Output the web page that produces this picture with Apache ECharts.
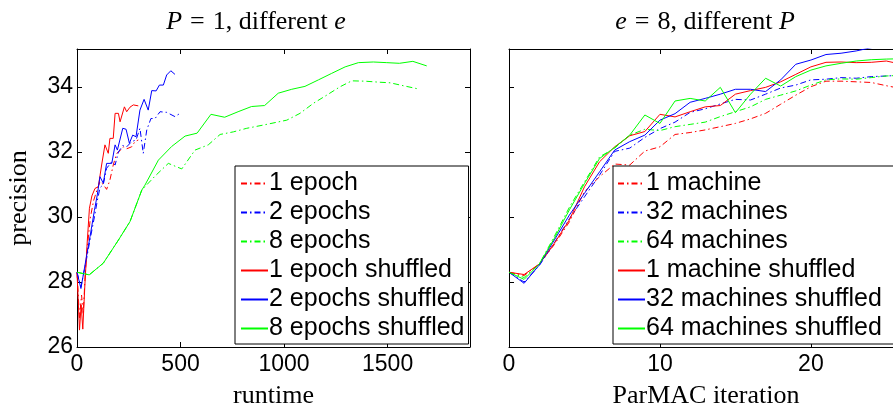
<!DOCTYPE html>
<html>
<head>
<meta charset="utf-8">
<script src="https://cdn.jsdelivr.net/npm/echarts@6/dist/echarts.min.js"></script>
<style>
html,body{margin:0;padding:0;background:#fff;}
#chart{width:893px;height:407px;}
</style>
</head>
<body>
<div id="chart"></div>
<script>
// left panel: [runtime, precision]
var epoch1 = [[0,28.3],[12,26.9],[22,27.6],[30,27.0],[40,28.3],[52,29.2],[65,30.0],[80,30.5],[95,30.8],[111,31.09],[127,31.0],[143,30.85],[159,31.14],[175,31.6],[192,31.96],[211,32.06],[224,32.16],[240,32.1],[264,32.16],[280,32.32],[296,32.37]];
var epoch2 = [[0,28.3],[19,27.85],[43,28.6],[63,29.3],[84,30.0],[98,30.5],[111,30.9],[127,31.0],[143,31.5],[168,31.7],[184,31.6],[200,32.0],[221,32.2],[240,32.16],[264,32.32],[285,32.37],[304,32.73],[320,31.96],[337,32.68],[357,33.03],[377,33.03],[401,33.24],[433,33.22],[473,33.09],[498,33.19]];
var epoch8 = [[0,28.3],[59,28.22],[127,28.58],[200,29.29],[256,29.86],[313,30.83],[377,31.26],[441,31.65],[506,31.48],[570,32.06],[634,32.22],[691,32.54],[755,32.62],[820,32.73],[900,32.83],[1013,32.98],[1077,33.19],[1142,33.5],[1206,33.75],[1271,34.01],[1327,34.19],[1391,34.18],[1456,34.15],[1512,34.13],[1576,34.04],[1649,33.94]];
var epoch1Shuf = [[0,28.3],[12,26.52],[20,27.3],[28,26.55],[38,27.9],[48,29.1],[60,30.27],[72,30.65],[87,30.88],[103,30.93],[119,31.6],[135,32.22],[151,31.96],[159,32.42],[175,32.42],[184,33.19],[200,33.19],[208,32.93],[229,33.39],[240,33.24],[256,33.38],[272,33.45],[296,33.42]];
var epoch2Shuf = [[0,28.3],[19,27.8],[43,28.68],[63,29.4],[84,30.2],[98,30.68],[111,31.24],[127,31.04],[143,31.65],[168,31.65],[184,32.22],[195,32.06],[221,32.73],[237,32.7],[253,32.27],[269,32.52],[285,32.47],[304,33.29],[324,33.62],[344,33.29],[361,33.89],[382,33.88],[398,34.06],[417,34.06],[433,34.37],[453,34.5],[473,34.39]];
var epoch8Shuf = [[0,28.3],[59,28.22],[127,28.58],[200,29.29],[256,29.86],[313,30.83],[328,30.98],[393,31.75],[457,32.17],[522,32.49],[580,32.58],[647,33.16],[713,33.07],[778,33.24],[843,33.4],[906,33.43],[972,33.81],[1037,33.93],[1101,34.02],[1166,34.22],[1230,34.42],[1295,34.62],[1359,34.75],[1431,34.77],[1496,34.75],[1557,34.73],[1622,34.79],[1689,34.65]];

// right panel: precision per ParMAC iteration 0..26
var iters = [0,1,2,3,4,5,6,7,8,9,10,11,12,13,14,15,16,17,18,19,20,21,22,23,24,25,26];
var mach1 = [28.3,28.2,28.55,29.15,29.85,30.78,31.24,31.63,31.6,32.03,32.16,32.54,32.6,32.68,32.78,32.88,33.02,33.19,33.47,33.75,34.01,34.18,34.18,34.16,34.14,34.04,33.95];
var mach32 = [28.3,28.0,28.5,29.2,29.95,30.62,31.29,32.02,32.12,32.45,32.72,32.92,33.22,33.33,33.48,33.62,33.6,33.78,33.97,34.06,34.22,34.24,34.29,34.27,34.32,34.34,34.36];
var mach64 = [28.3,28.14,28.55,29.4,30.3,31.08,31.85,32.12,32.52,32.7,32.66,32.78,32.85,32.92,33.09,33.24,33.39,33.62,33.75,33.88,34.06,34.22,34.25,34.24,34.29,34.34,34.36];
var mach1Shuf = [28.3,28.23,28.55,29.19,29.91,30.93,31.7,32.16,32.5,32.63,33.16,33.08,33.24,33.39,33.43,33.78,33.89,33.99,34.16,34.39,34.62,34.76,34.77,34.75,34.76,34.8,34.7];
var mach32Shuf = [28.3,27.96,28.52,29.29,30.06,30.73,31.39,32.06,32.32,32.52,32.98,33.18,33.53,33.65,33.78,33.93,33.93,33.86,34.22,34.7,34.83,35.0,35.04,35.11,35.21,35.3,35.4];
var mach64Shuf = [28.3,28.08,28.55,29.34,30.22,31.03,31.8,32.14,32.52,33.14,32.88,33.57,33.65,33.57,33.99,33.21,33.78,34.27,34.03,34.32,34.52,34.65,34.73,34.8,34.84,34.86,34.87];

var leftNames = ['1 epoch','2 epochs','8 epochs','1 epoch shuffled','2 epochs shuffled','8 epochs shuffled'];
var rightNames = ['1 machine','32 machines','64 machines','1 machine shuffled','32 machines shuffled','64 machines shuffled'];

var RED = '#ff0000', BLUE = '#0000ff', GREEN = '#00ff00';
var DASHDOT = [6,3,1.5,3];
var SANS = 'Liberation Sans', SERIF = 'Liberation Serif';
var YMIN = 26, YMAX = 35.17;

function pairs(ys){
	return ys.map(function(v,i){ return [iters[i], v]; });
}
function line(name, data, color, dashed, axis){
	return {
		name: name, type: 'line', data: data,
		xAxisIndex: axis.x, yAxisIndex: axis.y,
		symbol: 'none', showSymbol: false,
		lineStyle: {color: color, width: 1, type: dashed ? DASHDOT : 'solid'},
		itemStyle: {color: color},
		z: dashed ? 2 : 3,
		clip: true
	};
}
function axisBase(){
	return {
		axisLine: {show: true, onZero: false, lineStyle: {color: '#000', width: 1}},
		axisTick: {show: true, inside: true, length: 5, lineStyle: {color: '#000'}},
		splitLine: {show: false},
		axisLabel: {show: false}
	};
}
function xAx(grid, pos, max, interval, labels){
	var a = axisBase();
	a.type = 'value'; a.gridIndex = grid; a.position = pos;
	a.min = 0; a.max = max; a.interval = interval;
	if(labels){
		a.axisLabel = {show: true, color: '#000', fontFamily: SANS, fontSize: 23, margin: 6,
			showMaxLabel: false, formatter: function(v){ return String(v); }};
	}
	return a;
}
function yAx(grid, pos, labels){
	var a = axisBase();
	a.type = 'value'; a.gridIndex = grid; a.position = pos;
	a.min = YMIN; a.max = YMAX; a.interval = 2;
	if(labels){
		a.axisLabel = {show: true, color: '#000', fontFamily: SANS, fontSize: 23, margin: 4,
			showMaxLabel: false, formatter: function(v){ return String(v); }};
	}
	return a;
}

var L = {x: 0, y: 0}, R = {x: 2, y: 2};

var xBottomL = xAx(0, 'bottom', 1898, 500, true);
xBottomL.name = 'runtime';
xBottomL.nameLocation = 'middle';
xBottomL.nameGap = 36;
xBottomL.nameTextStyle = {fontFamily: SERIF, fontSize: 26, color: '#000'};

var xBottomR = xAx(1, 'bottom', 26.5, 10, true);
xBottomR.name = 'ParMAC iteration';
xBottomR.nameLocation = 'middle';
xBottomR.nameGap = 36;
xBottomR.nameTextStyle = {fontFamily: SERIF, fontSize: 26, color: '#000', padding: [0, 6, 0, 0]};

var yLeftL = yAx(0, 'left', true);
yLeftL.name = 'precision';
yLeftL.nameLocation = 'middle';
yLeftL.nameRotate = 90;
yLeftL.nameGap = 45;
yLeftL.nameTextStyle = {fontFamily: SERIF, fontSize: 26, color: '#000'};

// math-style title: italic symbols, wide "=" like LaTeX
var titleRich = {
	i: {fontFamily: SERIF, fontSize: 26, fontStyle: 'italic', fill: '#000'},
	eq: {fontFamily: SERIF, fontSize: 26, fill: '#000', padding: [0, 8, 0, 8]}
};

function legendOf(names, left, pad){
	return {
		data: names, orient: 'vertical', left: left, top: 166,
		itemWidth: 27, itemHeight: 12, itemGap: 4, padding: pad,
		borderColor: '#000', borderWidth: 1, backgroundColor: '#fff',
		itemStyle: {opacity: 0},
		textStyle: {fontFamily: SANS, fontSize: 25, color: '#000', padding: [0, 0, 0, -4]},
		selectedMode: false, z: 10
	};
}

var option = {
	animation: false,
	backgroundColor: '#fff',
	grid: [
		{left: 77, top: 49, width: 393, height: 298, outerBoundsMode: 'none'},
		{left: 509, top: 49, width: 400, height: 298, outerBoundsMode: 'none'}
	],
	xAxis: [xBottomL, xAx(0, 'top', 1898, 500, false), xBottomR, xAx(1, 'top', 26.5, 10, false)],
	yAxis: [yLeftL, yAx(0, 'right', false), yAx(1, 'left', false)],
	legend: [
		legendOf(leftNames, 235, [5, 4, 3, 5]),
		legendOf(rightNames, 613, [5, 60, 3, 4])
	],
	graphic: [
		{type: 'text', x: 256, y: 22, style: {text: '{i|P}{eq|=}1, different {i|e}', rich: titleRich,
			font: '26px "Liberation Serif"', fill: '#000', align: 'center', verticalAlign: 'middle'}},
		{type: 'text', x: 705, y: 22, style: {text: '{i|e}{eq|=}8, different {i|P}', rich: titleRich,
			font: '26px "Liberation Serif"', fill: '#000', align: 'center', verticalAlign: 'middle'}}
	],
	series: [
		line(leftNames[0], epoch1, RED, true, L),
		line(leftNames[1], epoch2, BLUE, true, L),
		line(leftNames[2], epoch8, GREEN, true, L),
		line(leftNames[3], epoch1Shuf, RED, false, L),
		line(leftNames[4], epoch2Shuf, BLUE, false, L),
		line(leftNames[5], epoch8Shuf, GREEN, false, L),
		line(rightNames[0], pairs(mach1), RED, true, R),
		line(rightNames[1], pairs(mach32), BLUE, true, R),
		line(rightNames[2], pairs(mach64), GREEN, true, R),
		line(rightNames[3], pairs(mach1Shuf), RED, false, R),
		line(rightNames[4], pairs(mach32Shuf), BLUE, false, R),
		line(rightNames[5], pairs(mach64Shuf), GREEN, false, R)
	]
};

var chart = echarts.init(document.getElementById('chart'), null, {renderer: 'canvas'});
chart.setOption(option);
</script>
</body>
</html>
